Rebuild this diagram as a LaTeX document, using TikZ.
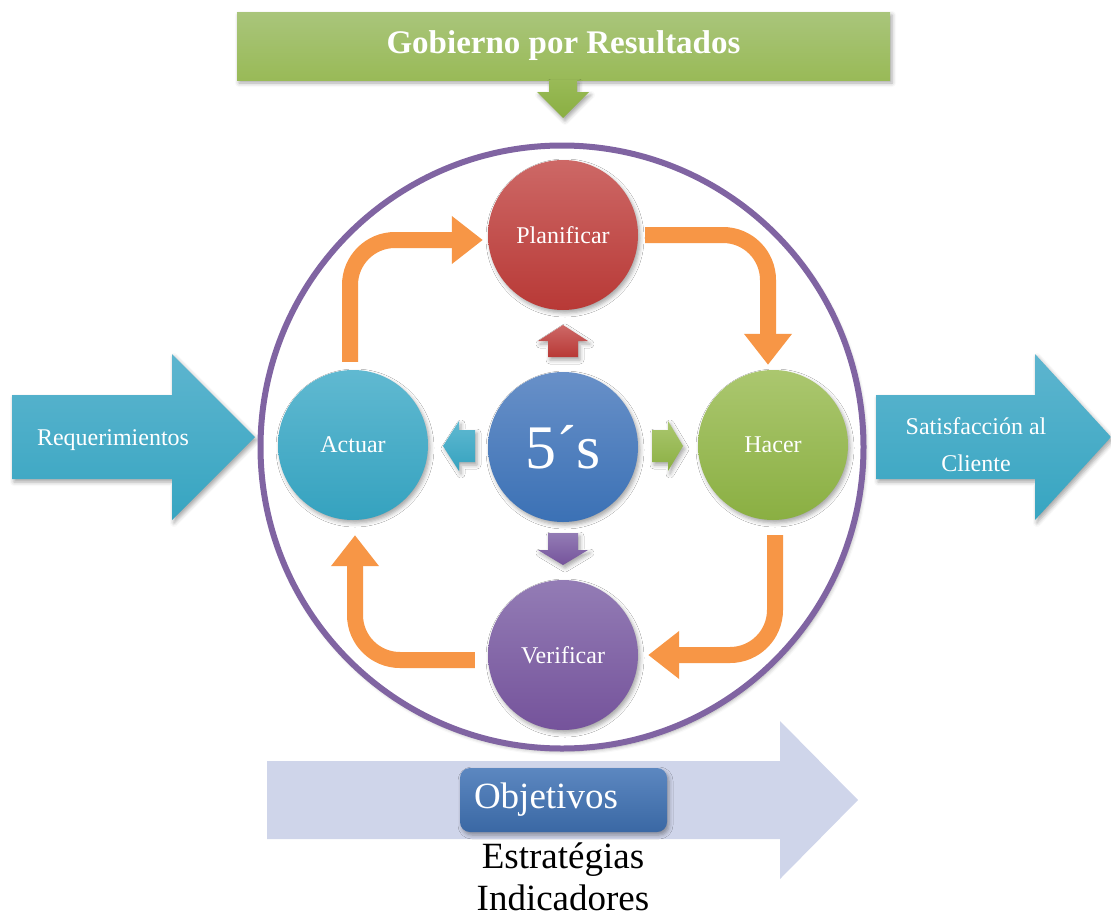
\documentclass[tikz,border=0pt]{standalone}
\usepackage{fontspec}
\setmainfont{Liberation Serif}
\usetikzlibrary{calc}
\usetikzlibrary{arrows.meta}
\usetikzlibrary{shadows.blur}
\definecolor{planA}{HTML}{CD6866}
\definecolor{planB}{HTML}{B83936}
\definecolor{fiveA}{HTML}{6890C8}
\definecolor{fiveB}{HTML}{3B71B5}
\definecolor{actA}{HTML}{60B9D1}
\definecolor{actB}{HTML}{35A2BF}
\definecolor{hacA}{HTML}{ABC76F}
\definecolor{hacB}{HTML}{8AAF42}
\definecolor{verA}{HTML}{937CB5}
\definecolor{verB}{HTML}{75539B}
\definecolor{govA}{HTML}{A9C57B}
\definecolor{govB}{HTML}{99BA57}
\definecolor{cyanA}{HTML}{5DB5CF}
\definecolor{cyanB}{HTML}{37A5C1}
\definecolor{lavender}{HTML}{CFD5EA}
\definecolor{objA}{HTML}{5C87C0}
\definecolor{objB}{HTML}{3A68A4}
\definecolor{loop}{HTML}{F79646}
\definecolor{ringline}{HTML}{8064A2}
% #1 style, #2 tail, #3 head start, #4 tip, #5 centre line, #6 shaft half width, #7 head half width
\newcommand{\wideArrow}[7]{ \path[#1] ( #2 , #5 - #6 ) -- ( #3 , #5 - #6 ) -- ( #3 , #5 - #7 ) -- ( #4 , #5 ) -- ( #3 , #5 + #7 ) -- ( #3 , #5 + #6 ) -- ( #2 , #5 + #6 ) -- cycle;}
\newcommand{\tallArrow}[7]{ \path[#1] ( #5 - #6 , #2 ) -- ( #5 - #6 , #3 ) -- ( #5 - #7 , #3 ) -- ( #5 , #4 ) -- ( #5 + #7 , #3 ) -- ( #5 + #6 , #3 ) -- ( #5 + #6 , #2 ) -- cycle;}
\tikzset{
  soft/.style={blur shadow={shadow xshift=2pt, shadow yshift=-3pt, shadow blur radius=4pt, shadow opacity=35}},
  stage/.style={circle, minimum size=150pt, inner sep=0pt, text=white, font=\fontsize{24}{28}\selectfont, soft},
  turn/.style={draw=loop, line width=16pt, rounded corners=45pt, -{Triangle[width=46pt, length=31pt]}},
  label/.style={text=white, font=\fontsize{24}{37}\selectfont, align=center}
}
\begin{document}
\begin{tikzpicture}[x=1pt, y=-1pt]
        \useasboundingbox (0,0) rectangle (1111,916);
        % side and bottom arrows
        \wideArrow{top color=cyanA, bottom color=cyanB, soft}{12}{172}{255}{437}{42}{83}
        \wideArrow{top color=cyanA, bottom color=cyanB, soft}{876}{1035}{1111}{437}{42}{83}
        \wideArrow{fill=lavender}{267}{780}{858}{800}{39}{79}
        % ring
        \node[circle, minimum size=603pt, draw=ringline, line width=6pt, fill=white, soft] (ring) at (562,447) {};
        % banner
        \node[rectangle, minimum width=653pt, minimum height=68pt, top color=govA, bottom color=govB, text=white, font=\fontsize{33}{38}\selectfont\bfseries, soft] (gobierno) at (563.5,46) {Gobierno por Resultados};
        \tallArrow{top color=govB, bottom color=hacB, soft}{80}{92}{118}{563}{14}{26}
        % stages
        \node[stage, top color=planA, bottom color=planB] (plan) at (563,235) {Planificar};
        \node[stage, top color=hacA, bottom color=hacB] (hacer) at (773,445) {Hacer};
        \node[stage, top color=verA, bottom color=verB] (verif) at (563,655) {Verificar};
        \node[stage, top color=actA, bottom color=actB] (actuar) at (353,445) {Actuar};
        \node[stage, top color=fiveA, bottom color=fiveB, font=\fontsize{62}{70}\selectfont] (fives) at (563,447) {5´s};
        % pointers
        \tallArrow{top color=planA, bottom color=planB, soft}{357}{341}{325}{563}{15}{25}
        \tallArrow{top color=verA, bottom color=verB, soft}{533}{550}{565}{563}{15}{25}
        \wideArrow{top color=hacA, bottom color=hacB, soft}{652}{668}{683}{446}{16}{25}
        \wideArrow{top color=actA, bottom color=actB, soft}{475}{459}{443}{446}{16}{25}
        % cycle
        \draw[turn, shorten <=8pt, shorten >=5pt] ([xshift=-3pt]actuar.north) |- ([yshift=-5pt]plan.west);
        \draw[turn, shorten <=7pt, shorten >=5pt] (plan.east) -| ([xshift=-5pt]hacer.north);
        \draw[turn, shorten <=15pt, shorten >=10pt] ([xshift=2pt]hacer.south) |- (verif.east);
        \draw[turn, shorten <=13pt, shorten >=15pt] ([yshift=-5pt]verif.west) -| ([xshift=2pt]actuar.south);
        % texts
        \node[label, anchor=base] (req) at (113,445) {Requerimientos};
        \node[label] (sat) at (976,445) {Satisfacción al\\Cliente};
        \node[rectangle, rounded corners=10pt, minimum height=64pt, text width=179pt, inner xsep=14pt, align=left, top color=objA, bottom color=objB, text=white, font=\fontsize{37}{42}\selectfont, soft] (obj) at (563.5,800) {Objetivos};
        \node[anchor=base, font=\fontsize{37}{42}\selectfont] (estr) at (563,868) {Estratégias};
        \node[anchor=base, font=\fontsize{37}{42}\selectfont] (ind) at (563,910) {Indicadores};
    \end{tikzpicture}
\end{document}
